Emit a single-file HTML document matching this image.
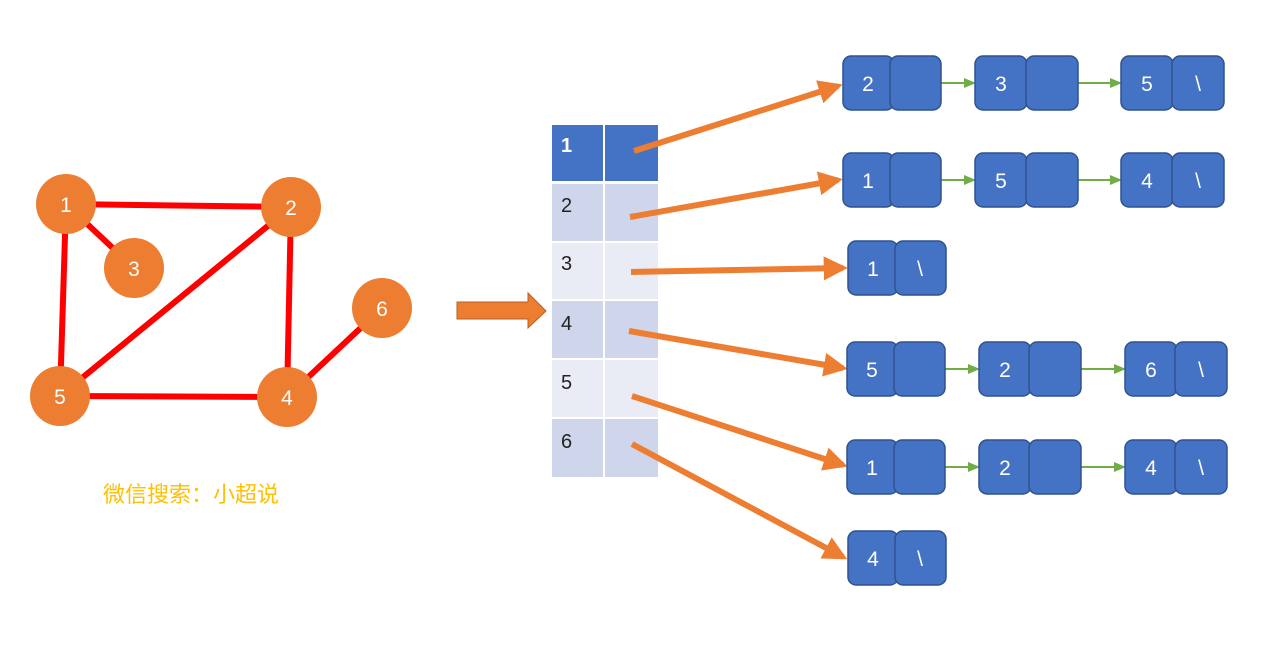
<!DOCTYPE html>
<html><head><meta charset="utf-8"><style>
body{margin:0;background:#fff;width:1280px;height:643px;overflow:hidden}
</style></head><body>
<svg width="1280" height="643" viewBox="0 0 1280 643" xmlns="http://www.w3.org/2000/svg" font-family="Liberation Sans, sans-serif">
<defs>
<marker id="ah" markerWidth="4" markerHeight="4" refX="3.2" refY="2" orient="auto" markerUnits="strokeWidth"><path d="M0,0 L4,2 L0,4 z" fill="#ed7d31"/></marker>
<marker id="gh" markerWidth="6" markerHeight="6" refX="5" refY="3" orient="auto" markerUnits="strokeWidth"><path d="M0,0.5 L6,3 L0,5.5 z" fill="#70ad47"/></marker>
</defs>
<g stroke="#ff0000" stroke-width="6">
<line x1="66" y1="204" x2="291" y2="207"/>
<line x1="66" y1="204" x2="134" y2="268"/>
<line x1="66" y1="204" x2="60" y2="396"/>
<line x1="291" y1="207" x2="60" y2="396"/>
<line x1="291" y1="207" x2="287" y2="397"/>
<line x1="60" y1="396" x2="287" y2="397"/>
<line x1="287" y1="397" x2="382" y2="308"/>
</g>
<g fill="#ed7d31">
<circle cx="66" cy="204" r="30"/><circle cx="291" cy="207" r="30"/><circle cx="134" cy="268" r="30"/>
<circle cx="382" cy="308" r="30"/><circle cx="60" cy="396" r="30"/><circle cx="287" cy="397" r="30"/>
</g>
<g fill="#fff" font-size="21" text-anchor="middle">
<text x="66" y="212">1</text><text x="291" y="215">2</text><text x="134" y="276">3</text>
<text x="382" y="316">6</text><text x="60" y="404">5</text><text x="287" y="405">4</text>
</g>
<text x="191" y="502" fill="#ffc000" font-size="22" text-anchor="middle" font-family="Liberation Sans, Noto Sans CJK SC, sans-serif">微信搜索：小超说</text>
<path d="M457,302 H528 V293 L546,311 L528,328 V319 H457 z" fill="#ed7d31" stroke="#b5611f" stroke-width="1"/>
<g>
<rect x="552" y="125" width="51" height="56" fill="#4472c4"/><rect x="605" y="125" width="53" height="56" fill="#4472c4"/>
<rect x="552" y="184" width="51" height="57" fill="#cfd5ea"/><rect x="605" y="184" width="53" height="57" fill="#cfd5ea"/>
<rect x="552" y="243" width="51" height="56" fill="#e9ebf5"/><rect x="605" y="243" width="53" height="56" fill="#e9ebf5"/>
<rect x="552" y="301" width="51" height="57" fill="#cfd5ea"/><rect x="605" y="301" width="53" height="57" fill="#cfd5ea"/>
<rect x="552" y="360" width="51" height="57" fill="#e9ebf5"/><rect x="605" y="360" width="53" height="57" fill="#e9ebf5"/>
<rect x="552" y="419" width="51" height="58" fill="#cfd5ea"/><rect x="605" y="419" width="53" height="58" fill="#cfd5ea"/>
</g>
<g font-size="20">
<text x="561" y="152" fill="#fff" font-weight="bold">1</text>
<text x="561" y="212" fill="#222">2</text><text x="561" y="270" fill="#222">3</text>
<text x="561" y="330" fill="#222">4</text><text x="561" y="389" fill="#222">5</text><text x="561" y="448" fill="#222">6</text>
</g>
<g stroke="#ed7d31" stroke-width="6" fill="none" marker-end="url(#ah)">
<line x1="634" y1="151" x2="838" y2="86"/>
<line x1="630" y1="217" x2="838" y2="180"/>
<line x1="631" y1="272" x2="843" y2="268"/>
<line x1="629" y1="331" x2="843" y2="368"/>
<line x1="632" y1="396" x2="843" y2="465"/>
<line x1="632" y1="444" x2="843" y2="557"/>
</g>
<g stroke="#70ad47" stroke-width="2" marker-end="url(#gh)">
<line x1="941" y1="83" x2="974" y2="83"/><line x1="1078" y1="83" x2="1120" y2="83"/>
<line x1="941" y1="180" x2="974" y2="180"/><line x1="1078" y1="180" x2="1120" y2="180"/>
<line x1="945" y1="369" x2="978" y2="369"/><line x1="1081" y1="369" x2="1124" y2="369"/>
<line x1="945" y1="467" x2="978" y2="467"/><line x1="1081" y1="467" x2="1124" y2="467"/>
</g>
<g fill="#4472c4" stroke="#2f528f" stroke-width="1.5">
<rect x="843" y="56" width="51" height="54" rx="8"/><rect x="890" y="56" width="51" height="54" rx="8"/>
<rect x="975" y="56" width="52" height="54" rx="8"/><rect x="1026" y="56" width="52" height="54" rx="8"/>
<rect x="1121" y="56" width="52" height="54" rx="8"/><rect x="1172" y="56" width="52" height="54" rx="8"/>
<rect x="843" y="153" width="51" height="54" rx="8"/><rect x="890" y="153" width="51" height="54" rx="8"/>
<rect x="975" y="153" width="52" height="54" rx="8"/><rect x="1026" y="153" width="52" height="54" rx="8"/>
<rect x="1121" y="153" width="52" height="54" rx="8"/><rect x="1172" y="153" width="52" height="54" rx="8"/>
<rect x="848" y="241" width="50" height="54" rx="8"/><rect x="895" y="241" width="51" height="54" rx="8"/>
<rect x="847" y="342" width="51" height="54" rx="8"/><rect x="894" y="342" width="51" height="54" rx="8"/>
<rect x="979" y="342" width="52" height="54" rx="8"/><rect x="1029" y="342" width="52" height="54" rx="8"/>
<rect x="1125" y="342" width="52" height="54" rx="8"/><rect x="1175" y="342" width="52" height="54" rx="8"/>
<rect x="847" y="440" width="51" height="54" rx="8"/><rect x="894" y="440" width="51" height="54" rx="8"/>
<rect x="979" y="440" width="52" height="54" rx="8"/><rect x="1029" y="440" width="52" height="54" rx="8"/>
<rect x="1125" y="440" width="52" height="54" rx="8"/><rect x="1175" y="440" width="52" height="54" rx="8"/>
<rect x="848" y="531" width="50" height="54" rx="8"/><rect x="895" y="531" width="51" height="54" rx="8"/>
</g>
<g fill="#fff" font-size="21" text-anchor="middle">
<text x="868" y="91">2</text><text x="1001" y="91">3</text><text x="1147" y="91">5</text><text x="1198" y="91">\</text>
<text x="868" y="188">1</text><text x="1001" y="188">5</text><text x="1147" y="188">4</text><text x="1198" y="188">\</text>
<text x="873" y="276">1</text><text x="920" y="276">\</text>
<text x="872" y="377">5</text><text x="1005" y="377">2</text><text x="1151" y="377">6</text><text x="1201" y="377">\</text>
<text x="872" y="475">1</text><text x="1005" y="475">2</text><text x="1151" y="475">4</text><text x="1201" y="475">\</text>
<text x="873" y="566">4</text><text x="920" y="566">\</text>
</g>
</svg>
</body></html>
